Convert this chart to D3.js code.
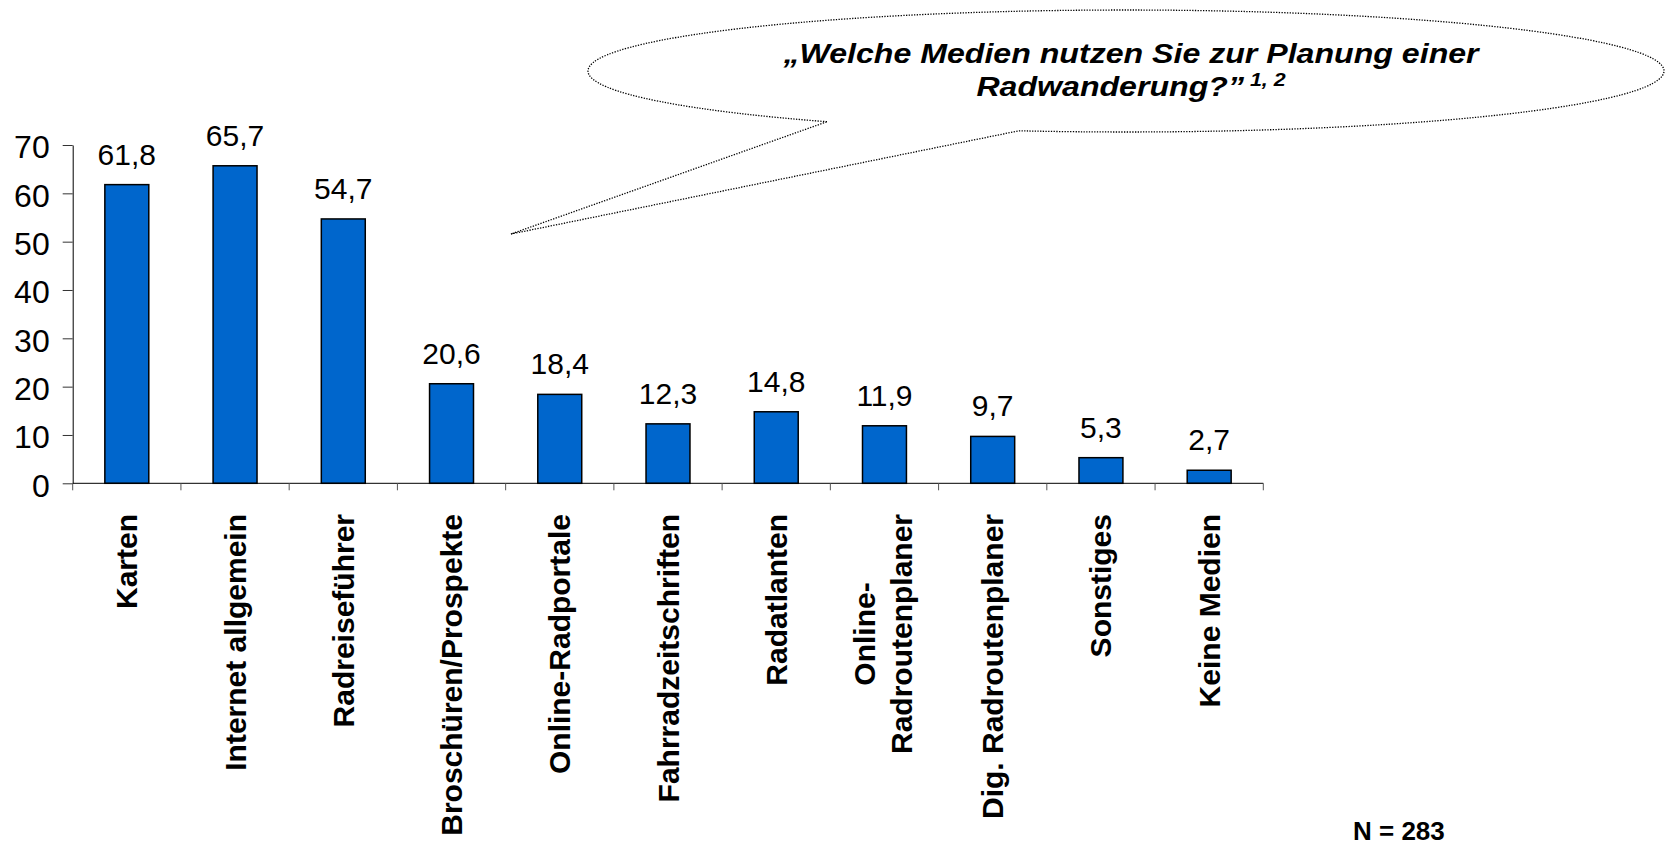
<!DOCTYPE html>
<html>
<head>
<meta charset="utf-8">
<script src="https://cdn.jsdelivr.net/npm/d3@7"></script>
<style>
  html, body { margin: 0; padding: 0; background: #fff; }
  svg { display: block; font-family: "Liberation Sans", Arial, sans-serif; }
</style>
</head>
<body>
<svg id="chart" width="1666" height="845"></svg>
<script>
// ---- data ----
const categories = [
  "Karten",
  "Internet allgemein",
  "Radreiseführer",
  "Broschüren/Prospekte",
  "Online-Radportale",
  "Fahrradzeitschriften",
  "Radatlanten",
  "Online-\nRadroutenplaner",
  "Dig. Radroutenplaner",
  "Sonstiges",
  "Keine Medien"
];
const values = [61.8, 65.7, 54.7, 20.6, 18.4, 12.3, 14.8, 11.9, 9.7, 5.3, 2.7];
const yTicks = [0, 10, 20, 30, 40, 50, 60, 70];
const titleLine1 = "„Welche Medien nutzen Sie zur Planung einer";
const titleLine2 = "Radwanderung?”";
const titleSup = "1, 2";
const sampleNote = "N = 283";

// ---- layout ----
const svg = d3.select("#chart");
const plotLeft = 72.7, plotRight = 1263.3, plotTop = 145, plotBottom = 483.3;

const x = d3.scaleBand()
  .domain(categories)
  .range([plotLeft, plotRight])
  .paddingInner(0.594)
  .paddingOuter(0.297);

const y = d3.scaleLinear().domain([0, 70]).range([plotBottom, plotTop]);

const fmt = v => d3.format(".1f")(v).replace(".", ",");

// ---- y axis ----
const yAxis = svg.append("g")
  .attr("transform", `translate(${plotLeft},0)`)
  .call(d3.axisLeft(y).tickValues(yTicks).tickSize(10).tickSizeOuter(0).tickPadding(13).tickFormat(d3.format("d")));
yAxis.select(".domain").attr("stroke", "#000").attr("stroke-width", 1);
yAxis.selectAll(".tick line").attr("stroke", "#333").attr("stroke-width", 1);
yAxis.selectAll(".tick text")
  .attr("font-size", 32)
  .attr("font-family", "Liberation Sans, Arial, sans-serif")
  .attr("fill", "#000")
  .attr("dy", "0.4em");

// ---- bars ----
svg.append("g").selectAll("rect")
  .data(values)
  .join("rect")
  .attr("x", (d, i) => x(categories[i]))
  .attr("y", d => y(d))
  .attr("width", x.bandwidth())
  .attr("height", d => y(0) - y(d))
  .attr("fill", "#0066CC")
  .attr("stroke", "#000")
  .attr("stroke-width", 1.5);

// ---- x axis ----
const step = x.step();
const xAxisG = svg.append("g");
xAxisG.append("line")
  .attr("x1", plotLeft).attr("x2", plotRight)
  .attr("y1", y(0)).attr("y2", y(0))
  .attr("stroke", "#000").attr("stroke-width", 1);
xAxisG.selectAll("line.tick")
  .data(d3.range(categories.length + 1))
  .join("line")
  .attr("class", "tick")
  .attr("x1", i => plotLeft + i * step)
  .attr("x2", i => plotLeft + i * step)
  .attr("y1", y(0)).attr("y2", y(0) + 7)
  .attr("stroke", "#555").attr("stroke-width", 1);

// ---- value labels ----
svg.append("g").selectAll("text")
  .data(values)
  .join("text")
  .attr("x", (d, i) => x(categories[i]) + x.bandwidth() / 2)
  .attr("y", d => y(d) - 20)
  .attr("text-anchor", "middle")
  .attr("font-size", 30)
  .attr("fill", "#000")
  .text(d => fmt(d));

// ---- category labels (rotated) ----
const labelTop = 514;
const lineGap = 37;
categories.forEach((c, i) => {
  const cx = x(c) + x.bandwidth() / 2;
  const lines = c.split("\n");
  const g = svg.append("g")
    .attr("transform", `translate(${cx},${labelTop}) rotate(-90)`);
  if (lines.length === 1) {
    g.append("text")
      .attr("x", 0).attr("y", 0)
      .attr("dy", "0.35em")
      .attr("text-anchor", "end")
      .attr("font-size", 30).attr("font-weight", "bold")
      .attr("fill", "#000")
      .text(lines[0]);
  } else {
    const texts = lines.map((ln, j) => g.append("text")
      .attr("y", 9 + (j - (lines.length - 1) / 2) * lineGap)
      .attr("text-anchor", "middle")
      .attr("font-size", 30).attr("font-weight", "bold")
      .attr("fill", "#000")
      .text(ln));
    const maxLen = d3.max(texts, t => t.node().getComputedTextLength());
    texts.forEach(t => t.attr("x", -maxLen / 2));
  }
});

// ---- callout bubble ----
const ecx = 1126, ecy = 71, erx = 538, ery = 61;
const ptOn = px => {
  const t = (px - ecx) / erx;
  return [px, ecy + ery * Math.sqrt(1 - t * t)];
};
const pA = ptOn(827), pB = ptOn(1019), tip = [511, 234];
svg.append("path")
  .attr("d", `M${pA[0]},${pA[1]} A${erx},${ery} 0 1,1 ${pB[0]},${pB[1]} L${tip[0]},${tip[1]} Z`)
  .attr("fill", "#fff")
  .attr("stroke", "#000")
  .attr("stroke-width", 1.3)
  .attr("stroke-dasharray", "1.3 1.4");

// ---- title ----
const tg = svg.append("g").attr("transform", "translate(1131,0) scale(1.19,1)");
tg.append("text")
  .attr("x", 0).attr("y", 63)
  .attr("text-anchor", "middle")
  .attr("font-size", 27).attr("font-weight", "bold").attr("font-style", "italic")
  .attr("fill", "#000")
  .text(titleLine1);
const t2 = tg.append("text")
  .attr("x", 0).attr("y", 96)
  .attr("text-anchor", "middle")
  .attr("font-size", 27).attr("font-weight", "bold").attr("font-style", "italic")
  .attr("fill", "#000");
t2.append("tspan").text(titleLine2);
t2.append("tspan").attr("dx", 5).attr("dy", -10).attr("font-size", 18).text(titleSup);

// ---- N note ----
svg.append("text")
  .attr("x", 1353).attr("y", 839.5)
  .attr("font-size", 26).attr("font-weight", "bold")
  .attr("fill", "#000")
  .text(sampleNote);
</script>
</body>
</html>
